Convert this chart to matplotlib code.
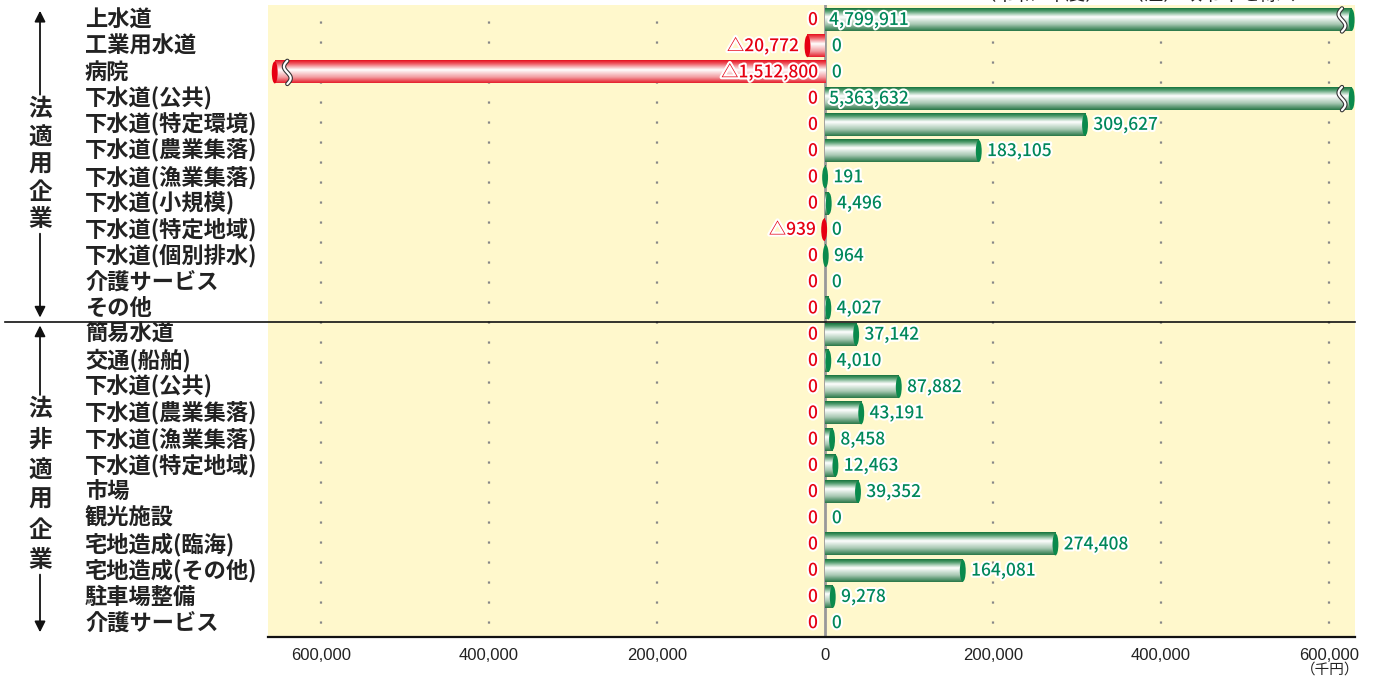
import numpy as np
import matplotlib
matplotlib.use("Agg")
import matplotlib.pyplot as plt
from matplotlib.colors import LinearSegmentedColormap
from matplotlib.patches import Ellipse
import matplotlib.patheffects as pe
import matplotlib.transforms as mtrans

plt.rcParams['font.family'] = ['Noto Sans CJK JP', 'DejaVu Sans']

# ---- data (千円) ----
labels_law = ['上水道', '工業用水道', '病院', '下水道(公共)', '下水道(特定環境)',
              '下水道(農業集落)', '下水道(漁業集落)', '下水道(小規模)',
              '下水道(特定地域)', '下水道(個別排水)', '介護サービス', 'その他']
surplus_law = [4799911, 0, 0, 5363632, 309627, 183105, 191, 4496, 0, 964, 0, 4027]
deficit_law = [0, 20772, 1512800, 0, 0, 0, 0, 0, 939, 0, 0, 0]

labels_non = ['簡易水道', '交通(船舶)', '下水道(公共)', '下水道(農業集落)',
              '下水道(漁業集落)', '下水道(特定地域)', '市場', '観光施設',
              '宅地造成(臨海)', '宅地造成(その他)', '駐車場整備', '介護サービス']
surplus_non = [37142, 4010, 87882, 43191, 8458, 12463, 39352, 0, 274408, 164081, 9278, 0]
deficit_non = [0, 0, 0, 0, 0, 0, 0, 0, 0, 0, 0, 0]

group_labels = ['法適用企業', '法非適用企業']
xticks = [-600000, -400000, -200000, 0, 200000, 400000, 600000]
xtick_labels = ['600,000', '400,000', '200,000', '0', '200,000', '400,000', '600,000']
unit_label = '（千円）'
note_text = '（令和5年度）　（注）政令市を除く'

labels = labels_law + labels_non
surplus = surplus_law + surplus_non
deficit = deficit_law + deficit_non
n = len(labels)

# ---- style ----
GREEN = '#00875a'
RED = '#e60012'
BG = '#fff8cc'
XMIN, XMAX = -663000, 631000
BREAK_R = 627000
BREAK_L = -655000
H = 0.84
CAPW = 7000

green_cmap = LinearSegmentedColormap.from_list(
    'g', [(0, '#17743f'), (0.12, '#4d9a6a'), (0.38, '#ffffff'), (0.7, '#a9c9b4'), (1.0, '#2a7848')])
red_cmap = LinearSegmentedColormap.from_list(
    'r', [(0, '#e60f1e'), (0.15, '#ee5a62'), (0.42, '#ffffff'), (0.75, '#f29ca0'), (1.0, '#e6202c')])
grad = np.linspace(0, 1, 64).reshape(-1, 1)

fig = plt.figure(figsize=(13.76, 6.8), dpi=100)
ax = fig.add_axes([268 / 1376, 1 - 637 / 680, (1355 - 268) / 1376, (637 - 5) / 680])
ax.set_facecolor(BG)

outline = [pe.withStroke(linewidth=3, foreground='white')]
VFS = 12.5


def squiggle(xc, yc, amp):
    t = np.linspace(-0.5, 0.5, 40)
    xs = xc + amp * np.sin(2 * np.pi * t)
    ys = yc + t * H * 1.05
    ax.plot(xs, ys, color='white', lw=1.6, zorder=6, solid_capstyle='round',
            path_effects=[pe.Stroke(linewidth=3.2, foreground='#333333'), pe.Normal()])


for i in range(n):
    s = surplus[i]
    d = deficit[i]
    # positive (green) bar
    if s > 0:
        broken = s > XMAX
        end = BREAK_R if broken else s
        ax.imshow(grad, extent=[0, end, i + H / 2, i - H / 2], aspect='auto',
                  cmap=green_cmap, interpolation='bilinear', zorder=3)
        ax.add_patch(Ellipse((end, i), CAPW, H, facecolor='#0a8a4c', edgecolor='none', zorder=4))
        if broken:
            squiggle(615500, i, 4000)
            ax.annotate(f'{s:,}', (0, i), xytext=(3, 0), textcoords='offset points',
                        ha='left', va='center', color=GREEN, fontsize=VFS, fontweight='medium',
                        path_effects=outline, zorder=7)
        else:
            ax.annotate(f'{s:,}', (end, i), xytext=(6, 0), textcoords='offset points',
                        ha='left', va='center', color=GREEN, fontsize=VFS, fontweight='medium',
                        path_effects=outline, zorder=7)
    else:
        ax.annotate('0', (0, i), xytext=(5, 0), textcoords='offset points',
                    ha='left', va='center', color=GREEN, fontsize=VFS, fontweight='medium',
                    path_effects=outline, zorder=7)
    # negative (red) bar
    if d > 0:
        broken = -d < XMIN
        end = BREAK_L if broken else -d
        ax.imshow(grad, extent=[end, 0, i + H / 2, i - H / 2], aspect='auto',
                  cmap=red_cmap, interpolation='bilinear', zorder=3)
        ax.add_patch(Ellipse((end, i), CAPW, H, facecolor=RED, edgecolor='none', zorder=4))
        if broken:
            squiggle(-640000, i, 4000)
            ax.annotate(f'△{d:,}', (0, i), xytext=(-5, 0), textcoords='offset points',
                        ha='right', va='center', color=RED, fontsize=VFS, fontweight='medium',
                        path_effects=outline, zorder=7)
        else:
            ax.annotate(f'△{d:,}', (end, i), xytext=(-6, 0), textcoords='offset points',
                        ha='right', va='center', color=RED, fontsize=VFS, fontweight='medium',
                        path_effects=outline, zorder=7)
    else:
        ax.annotate('0', (0, i), xytext=(-5, 0), textcoords='offset points',
                    ha='right', va='center', color=RED, fontsize=VFS, fontweight='medium',
                    path_effects=outline, zorder=7)

# zero line and grid
ax.axvline(0, color='#999999', lw=2, zorder=2)
for xt in xticks:
    if xt != 0:
        ax.axvline(xt, color='#888888', lw=1.6, linestyle=(3, (1, 8)), zorder=1)

ax.set_xlim(XMIN, XMAX)
ax.set_ylim(n - 0.47, -0.57)
ax.set_xticks(xticks)
ax.set_xticklabels(xtick_labels, fontsize=12, family=['Liberation Sans', 'DejaVu Sans'], color='#222222')
ax.tick_params(axis='x', length=0, pad=8)
ax.set_yticks([])
for sp in ['top', 'right', 'left']:
    ax.spines[sp].set_visible(False)
ax.spines['bottom'].set_color('#111111')
ax.spines['bottom'].set_linewidth(1.6)

# category labels
lab_tr = mtrans.blended_transform_factory(fig.transFigure, ax.transData)
for i, lab in enumerate(labels):
    ax.text(85 / 1376, i, lab, transform=lab_tr, ha='left', va='center',
            fontsize=16, fontweight='bold', color='#222222')

# separator line
nl = len(labels_law)
ax.plot([5 / 1376, 1355 / 1376], [nl - 0.5, nl - 0.5], transform=lab_tr,
        color='#111111', lw=1.2, clip_on=False)

# group vertical labels with arrows
xg = 40 / 1376


def group(label, top, bottom, txt_top, txt_bot):
    ax.annotate('', xy=(xg, top), xytext=(xg, txt_top), xycoords=lab_tr, textcoords=lab_tr,
                arrowprops=dict(arrowstyle='-|>', color='#111111', lw=1.3,
                                mutation_scale=16, shrinkA=0, shrinkB=0))
    ax.annotate('', xy=(xg, bottom), xytext=(xg, txt_bot), xycoords=lab_tr, textcoords=lab_tr,
                arrowprops=dict(arrowstyle='-|>', color='#111111', lw=1.3,
                                mutation_scale=16, shrinkA=0, shrinkB=0))
    k = len(label)
    ys = np.linspace(txt_top + 0.55, txt_bot - 0.55, k)
    for ch, y in zip(label, ys):
        ax.text(xg, y, ch, transform=lab_tr, ha='center', va='center',
                fontsize=17, fontweight='bold', color='#222222')


group(group_labels[0], -0.35, 11.35, 2.85, 8.15)
group(group_labels[1], 11.65, 23.35, 14.3, 21.15)

# unit and note
fig.text(1330 / 1376, 1 - 670 / 680, unit_label, ha='center', va='center',
         fontsize=10.5, color='#222222')
fig.text(1138 / 1376, 1 + 6 / 680, note_text, ha='center', va='center',
         fontsize=14, color='#222222')

fig.savefig('out.png', dpi=100, facecolor='white')
